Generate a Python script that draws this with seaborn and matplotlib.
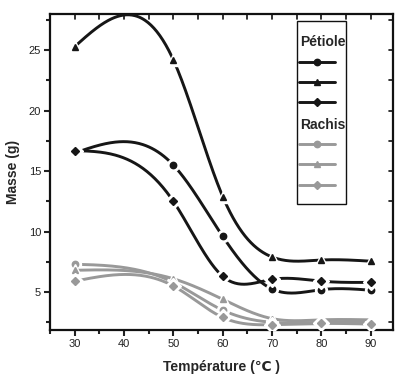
import numpy as np
import pandas as pd
import matplotlib
matplotlib.use("Agg")
import matplotlib.pyplot as plt
import seaborn as sns
from matplotlib.patches import Rectangle
from matplotlib.ticker import MultipleLocator

# --- data ---
temperature = [30, 50, 60, 70, 80, 90]

petiole_circle = [16.5, 15.5, 9.6, 5.25, 5.2, 5.15]
petiole_triangle = [25.3, 24.2, 12.9, 7.9, 7.65, 7.55]
petiole_diamond = [16.7, 12.5, 6.3, 6.05, 5.9, 5.8]

rachis_circle = [7.3, 5.8, 3.5, 2.5, 2.5, 2.5]
rachis_triangle = [6.8, 6.1, 4.4, 2.8, 2.7, 2.7]
rachis_diamond = [5.9, 5.5, 2.9, 2.3, 2.4, 2.35]

BLACK = "#161616"
GRAY = "#999999"

series = [
    ("Pétiole", "o", BLACK, petiole_circle),
    ("Pétiole", "^", BLACK, petiole_triangle),
    ("Pétiole", "D", BLACK, petiole_diamond),
    ("Rachis", "o", GRAY, rachis_circle),
    ("Rachis", "^", GRAY, rachis_triangle),
    ("Rachis", "D", GRAY, rachis_diamond),
]
marker_size = {"o": 4.6, "^": 5.0, "D": 3.8}


def natural_spline(x, y, n=300):
    # natural cubic spline, like the smoothed lines of the original plot
    x = np.asarray(x, float)
    y = np.asarray(y, float)
    h = np.diff(x)
    m = len(x)
    A = np.zeros((m, m))
    b = np.zeros(m)
    A[0, 0] = A[-1, -1] = 1
    for i in range(1, m - 1):
        A[i, i - 1] = h[i - 1]
        A[i, i] = 2 * (h[i - 1] + h[i])
        A[i, i + 1] = h[i]
        b[i] = 6 * ((y[i + 1] - y[i]) / h[i] - (y[i] - y[i - 1]) / h[i - 1])
    M = np.linalg.solve(A, b)
    xs = np.linspace(x[0], x[-1], n)
    idx = np.clip(np.searchsorted(x, xs) - 1, 0, m - 2)
    x0, x1 = x[idx], x[idx + 1]
    hh = x1 - x0
    ys = (M[idx] * (x1 - xs) ** 3 / (6 * hh) + M[idx + 1] * (xs - x0) ** 3 / (6 * hh)
          + (y[idx] / hh - M[idx] * hh / 6) * (x1 - xs)
          + (y[idx + 1] / hh - M[idx + 1] * hh / 6) * (xs - x0))
    return xs, ys


sns.set_style("ticks")
plt.rcParams["font.family"] = ["Liberation Sans Narrow", "Liberation Sans", "DejaVu Sans"]

fig = plt.figure(figsize=(3.95, 3.78), dpi=100)
ax = fig.add_axes([50 / 395, 1 - 330 / 378, 343 / 395, 316 / 378])

z = 2
for group, mk, col, vals in series:
    xs, ys = natural_spline(temperature, vals)
    sns.lineplot(x=xs, y=ys, color=col, lw=2.1, ax=ax, zorder=z)
    pts = pd.DataFrame({"t": temperature, "m": vals})
    # white halo gives the line gap around each marker
    ax.plot(pts["t"], pts["m"], ls="none", marker=mk, ms=marker_size[mk] + 4,
            color="white", mec="white", zorder=z + 0.1)
    ax.plot(pts["t"], pts["m"], ls="none", marker=mk, ms=marker_size[mk],
            color=col, mec=col, zorder=z + 0.2)
    z += 1

ax.set_xlim(25, 94.5)
ax.set_ylim(1.86, 28)
ax.xaxis.set_major_locator(MultipleLocator(10))
ax.xaxis.set_minor_locator(MultipleLocator(5))
ax.yaxis.set_major_locator(MultipleLocator(5))
ax.yaxis.set_minor_locator(MultipleLocator(2.5))
ax.set_xticks(range(30, 91, 10))
ax.tick_params(which="both", direction="out", width=1.5, labelsize=8,
               colors="#222222", top=False, right=False)
ax.tick_params(which="major", length=4.5, pad=2)
ax.tick_params(which="minor", length=3)
for sp in ax.spines.values():
    sp.set_linewidth(1.6)
    sp.set_color("#111111")

# inward ticks on the top and right frame, as in the original
for xt in np.arange(25, 95, 5):
    ax.plot([xt, xt], [1, 0.985], color="#111111", lw=1.2,
            transform=ax.get_xaxis_transform(), clip_on=False)
for yt in np.arange(2.5, 28, 2.5):
    ax.plot([1, 0.988], [yt, yt], color="#111111", lw=1.2,
            transform=ax.get_yaxis_transform(), clip_on=False)

ax.set_xlabel("Température (\u2103 )", fontsize=10, fontweight="bold", labelpad=8)
ax.set_ylabel("Masse (g)", fontsize=10, fontweight="bold", labelpad=6)

# legend box drawn like the original: two headed groups, handles without text
ax.add_patch(Rectangle((0.72, 0.399), 0.143, 0.58, transform=ax.transAxes,
                       fill=True, facecolor="white", edgecolor="#111111", lw=1.0, zorder=20))
rows = [0.848, 0.785, 0.722, 0.589, 0.525, 0.459]
for (group, mk, col, vals), ry in zip(series, rows):
    ax.plot([0.726, 0.831], [ry, ry], color=col, lw=2.1, transform=ax.transAxes, zorder=21)
    ax.plot([0.778], [ry], ls="none", marker=mk, ms=marker_size[mk], color=col,
            mec=col, transform=ax.transAxes, zorder=22)
ax.text(0.73, 0.911, "Pétiole", transform=ax.transAxes, fontsize=10, fontweight="bold",
        va="center", ha="left", zorder=22)
ax.text(0.73, 0.649, "Rachis", transform=ax.transAxes, fontsize=10, fontweight="bold",
        va="center", ha="left", zorder=22)

fig.savefig("out.png", dpi=100)
